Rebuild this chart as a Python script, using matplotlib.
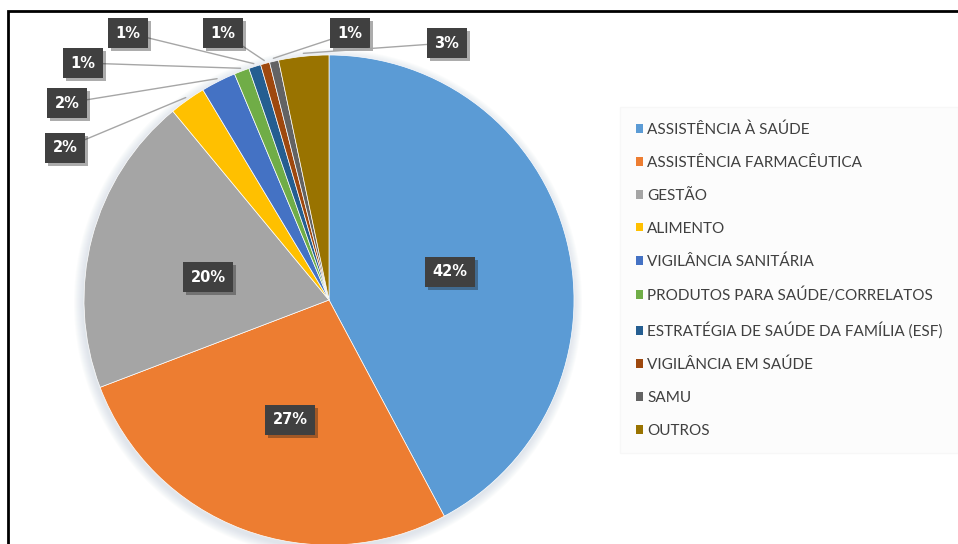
import matplotlib
matplotlib.use('Agg')
import numpy as np
import matplotlib.pyplot as plt
import matplotlib.patheffects as pe
from matplotlib.patches import Rectangle, Patch, Circle

# dados (percentuais por categoria)
categorias = ['ASSISTÊNCIA À SAÚDE', 'ASSISTÊNCIA FARMACÊUTICA', 'GESTÃO', 'ALIMENTO',
              'VIGILÂNCIA SANITÁRIA', 'PRODUTOS PARA SAÚDE/CORRELATOS',
              'ESTRATÉGIA DE SAÚDE DA FAMÍLIA (ESF)', 'VIGILÂNCIA EM SAÚDE', 'SAMU', 'OUTROS']
percentuais = [42.2, 27.0, 19.8, 2.4, 2.3, 1.0, 0.8, 0.6, 0.6, 3.3]
cores = ['#5B9BD5', '#ED7D31', '#A5A5A5', '#FFC000', '#4472C4', '#70AD47',
         '#255E91', '#9E480E', '#636363', '#997300']

# posicao das caixas de rotulo (pixels da imagem, origem no topo)
pos_rotulos = [(450, 272), (290, 420), (208, 277), (65, 148), (67, 103),
               (83, 63), (128, 33), (223, 33), (350, 33), (447, 43)]

W, H = 958, 544
centro = (329, H - 300)
raio = 245

fig = plt.figure(figsize=(W / 100, H / 100), dpi=100)
ax = fig.add_axes([0, 0, 1, 1])

# sombra suave em volta da pizza
for k in range(1, 10):
    ax.add_patch(Circle((centro[0] - 1, centro[1] - 3), raio + k, color='#b8c4d4',
                        alpha=0.05, lw=0, zorder=1))

wedges, _ = ax.pie(percentuais, colors=cores, startangle=90, counterclock=False,
                   center=centro, radius=raio,
                   wedgeprops=dict(edgecolor='white', linewidth=0.5, zorder=2))

caixa = dict(boxstyle='square,pad=0.5', fc='#404040', ec='none')
sombra = [pe.SimplePatchShadow(offset=(2, -2), alpha=0.35), pe.Normal()]

acum = 0
for i, v in enumerate(percentuais):
    meio = np.deg2rad(90 - 3.6 * (acum + v / 2))
    acum += v
    px, py = pos_rotulos[i]
    txt = '{:.0f}%'.format(v)
    if i < 3:
        t = ax.text(px, H - py, txt, ha='center', va='center', color='white',
                    fontsize=10.5, fontweight='bold', bbox=caixa, zorder=5)
    else:
        ponta = (centro[0] + (raio + 3) * np.cos(meio), centro[1] + (raio + 3) * np.sin(meio))
        t = ax.annotate(txt, xy=ponta, xytext=(px, H - py), ha='center', va='center',
                        color='white', fontsize=10.5, fontweight='bold', bbox=caixa, zorder=5,
                        arrowprops=dict(arrowstyle='-', color='#a6a6a6', lw=1,
                                        shrinkA=0, shrinkB=0))
    t.get_bbox_patch().set_path_effects(sombra)

handles = [Patch(facecolor=c, edgecolor='none') for c in cores]
leg = ax.legend(handles, categorias, loc='upper left',
                bbox_to_anchor=(625 / W, 1 - 112 / H), frameon=True,
                labelspacing=1.23, handlelength=0.5, handleheight=0.5,
                handletextpad=0.25, borderpad=0.7, borderaxespad=0,
                prop={'family': 'Lato', 'size': 11})
leg.get_frame().set_facecolor('#fcfcfc')
leg.get_frame().set_edgecolor('#f6f6f6')
leg.get_frame().set_boxstyle('square')
for tx in leg.get_texts():
    tx.set_color('#404040')

# moldura preta (so aparecem topo e esquerda)
ax.add_patch(Rectangle((8, -30), 1100, H - 11 + 30, fill=False, ec='black', lw=2, zorder=6))

ax.set_xlim(0, W)
ax.set_ylim(0, H)
ax.set_aspect('equal')
ax.axis('off')

fig.savefig('out.png', dpi=100, facecolor='white')
